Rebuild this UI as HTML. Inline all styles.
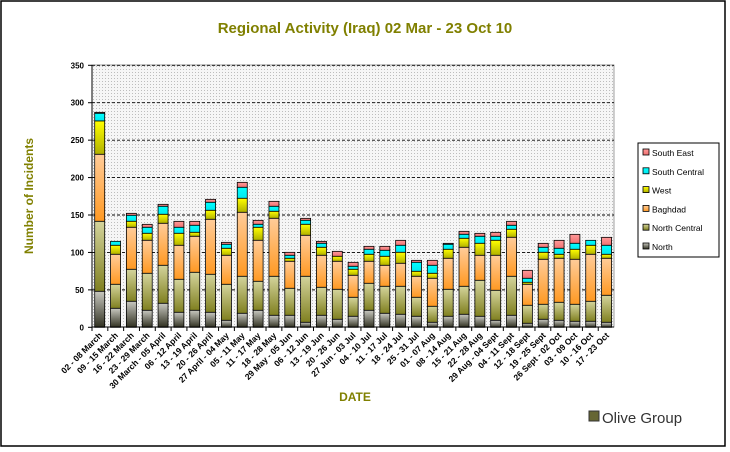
<!DOCTYPE html>
<html><head><meta charset="utf-8"><style>
html,body{margin:0;padding:0;background:#fff;width:730px;height:452px;overflow:hidden}
svg{display:block;font-family:"Liberation Sans","DejaVu Sans",sans-serif}
</style></head><body>
<svg id="s" width="730" height="452" xmlns="http://www.w3.org/2000/svg">
<defs>
<pattern id="dots" width="3" height="3" patternUnits="userSpaceOnUse"><rect width="3" height="3" fill="#f6f6f6"/><rect width="1" height="1" fill="#bdbdbd"/></pattern>
<linearGradient id="gSE" x1="0" y1="0" x2="0" y2="1"><stop offset="0" stop-color="#ff9a9a"/><stop offset="1" stop-color="#f07070"/></linearGradient>
<linearGradient id="gSC" x1="0" y1="0" x2="0" y2="1"><stop offset="0" stop-color="#00ffff"/><stop offset="1" stop-color="#00e8f0"/></linearGradient>
<linearGradient id="gW" x1="0" y1="0" x2="0" y2="1"><stop offset="0" stop-color="#ffff00"/><stop offset="1" stop-color="#b0b000"/></linearGradient>
<linearGradient id="gB" x1="0" y1="0" x2="0" y2="1"><stop offset="0" stop-color="#ffcc99"/><stop offset="1" stop-color="#ff9922"/></linearGradient>
<linearGradient id="gNC" x1="0" y1="0" x2="0" y2="1"><stop offset="0" stop-color="#d4d49c"/><stop offset="1" stop-color="#808020"/></linearGradient>
<linearGradient id="gN" x1="0" y1="0" x2="0" y2="1"><stop offset="0" stop-color="#c8c8c0"/><stop offset="1" stop-color="#303020"/></linearGradient>
</defs>
<rect x="1" y="1" width="724" height="445" fill="#fff" stroke="#000" stroke-width="1.5"/>
<text x="365" y="33" text-anchor="middle" font-size="15" font-weight="bold" fill="#808000">Regional Activity (Iraq)  02 Mar - 23 Oct 10</text>
<rect x="92" y="65" width="522" height="262" fill="url(#dots)" stroke="#888" stroke-width="0.8"/>
<rect x="638" y="143" width="81" height="114" fill="#fff" stroke="#000"/>
<g id="g"></g>
<text transform="translate(33,196) rotate(-90)" text-anchor="middle" font-size="12" font-weight="bold" fill="#808000">Number of Incidents</text>
<text x="355" y="401" text-anchor="middle" font-size="12" font-weight="bold" fill="#808000">DATE</text>
<rect x="589" y="411" width="10" height="10" fill="#666633" stroke="#333"/>
<text x="602" y="423" font-size="15" fill="#333">Olive Group</text>
</svg>
<script>
var d=[[37,40,63,163,364,574],[424,424,436,463,553,625],[340,346,364,382,508,604],[373,382,400,421,520,631],[313,319,343,370,496,610],[364,382,400,436,538,637],[364,376,397,409,517,631],[298,307,331,358,523,637],[427,433,445,466,553,661],[247,262,295,337,529,640],[361,373,382,421,544,631],[304,319,334,355,529,646],[457,466,475,484,565,646],[355,361,373,406,529,667],[424,430,442,466,562,646],[454,469,469,484,568,658],[487,499,508,526,592,649],[439,448,463,484,550,631],[439,451,469,496,559,640],[421,436,457,490,559,643],[481,487,514,529,592,649],[481,496,520,535,619,667],[430,433,448,475,568,649],[394,403,415,442,559,643],[400,409,430,466,541,649],[397,409,421,466,571,661],[364,376,388,412,529,646],[511,535,547,553,616,670],[430,442,457,478,613,658],[421,445,463,475,607,661],[403,430,448,478,613,664],[421,421,436,463,604,664],[412,436,463,475,586,667]];
var L=["02 - 08 March","09 - 15 March","16 - 22 March","23 - 29 March","30 March - 05 April","06 - 12 April","13 - 19 April","20 - 26 April","27 April - 04 May","05 - 11 May","11 - 17 May","18 - 28 May","29 May - 05 Jun","06 - 12 Jun","13 - 19 Jun","20 - 26 Jun","27 Jun - 03 Jul","04 - 10 Jul","11 - 17 Jul","18 - 24 Jul","25 - 31 Jul","01 - 07 Aug","08 - 14 Aug","15 - 21 Aug","22 - 28 Aug","29 Aug - 04 Sept","04 - 11 Sept","12 - 18 Sept","19 - 25 Sept","26 Sept - 02 Oct","03 - 09 Oct","10 - 16 Oct","17 - 23 Oct"];
var g=["gSE","gSC","gW","gB","gNC","gN"],s="";
for(var k=0;k<=7;k++){var y=327.3-k*37.43;if(k>0)s+='<line x1="92" x2="614" y1="'+y+'" y2="'+y+'" stroke="#000" stroke-dasharray="3,2" stroke-width="0.9"/>';s+='<line x1="88" x2="92" y1="'+y+'" y2="'+y+'" stroke="#000"/><text x="84" y="'+(y+3)+'" text-anchor="end" font-size="8" font-weight="bold">'+(k*50)+'</text>';}
for(var i=0;i<33;i++){var x=94.7+i*15.84,b=d[i];for(var j=0;j<6;j++){var t=100+b[j]/3,bt=100+(j<5?b[j+1]:682)/3;if(bt-t>0.3)s+='<rect x="'+x+'" y="'+t+'" width="10" height="'+(bt-t)+'" fill="url(#'+g[j]+')" stroke="#000" stroke-width="0.8"/>';}
var tx=92+i*15.82;s+='<line x1="'+tx+'" x2="'+tx+'" y1="327" y2="331" stroke="#000"/>';
var cx=x+5;s+='<text transform="translate('+(cx+3)+',336) rotate(-45)" text-anchor="end" font-size="8.5" font-weight="bold">'+L[i]+'</text>';}
s+='<line x1="92" x2="92" y1="65" y2="327" stroke="#000"/><line x1="92" x2="614" y1="327" y2="327" stroke="#000"/>';
var ln=["South East","South Central","West","Baghdad","North Central","North"];
for(var j=0;j<6;j++){var y=149+j*18.8;s+='<rect x="643" y="'+y+'" width="6" height="6" fill="url(#'+g[j]+')" stroke="#000" stroke-width="0.8"/><text x="652" y="'+(y+7)+'" font-size="8.5" fill="#000">'+ln[j]+'</text>';}
document.getElementById("g").innerHTML=s;
</script>
</body></html>
